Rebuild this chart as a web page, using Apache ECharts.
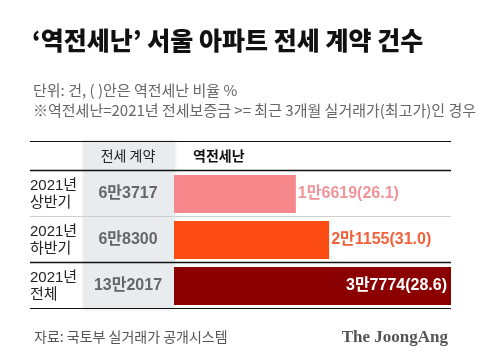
<!DOCTYPE html>
<html><head><meta charset="utf-8">
<script src="https://cdn.jsdelivr.net/npm/echarts@6/dist/echarts.min.js"></script>
<style>html,body{margin:0;padding:0;background:#fff}#c{width:480px;height:362px}</style>
</head><body><div id="c"></div>
<script>
var categories = ['2021년\n상반기', '2021년\n하반기', '2021년\n전체'];
var totalContracts = [63717, 68300, 132017];
var reverseCounts = [16619, 21155, 37774];
var reverseRatios = ['26.1', '31.0', '28.6'];
var barColors = ['#f6878b', '#fd4b14', '#8b0000'];
var labelColors = ['#f0959a', '#f2623a', '#ffffff'];

function man(v){ var m = Math.floor(v/10000), r = v%10000; return m + '만' + r; }

var F = '"Noto Sans CJK KR", "Noto Sans", sans-serif';
var FN = '"Liberation Sans", "Noto Sans CJK KR", sans-serif';
var chart = echarts.init(document.getElementById('c'), null, {renderer:'canvas'});
var L = 30, R = 451;
function hline(y, color, w){
  return {type:'line', shape:{x1:L, y1:y, x2:R, y2:y}, style:{stroke:color, lineWidth:w}, z:10};
}
chart.setOption({
  animation:false,
  title:[
    {text:'‘역전세난’ 서울 아파트 전세 계약 건수', left:27, top:23,
     textStyle:{fontFamily:F, fontSize:25, fontWeight:900, color:'#111'}},
    {text:'단위: 건, ( )안은 역전세난 비율 %\n※역전세난=2021년 전세보증금 >= 최근 3개월 실거래가(최고가)인 경우', left:28, top:75,
     textStyle:{fontFamily:F, fontSize:15, fontWeight:400, color:'#666', lineHeight:20}},
    {text:'자료: 국토부 실거래가 공개시스템', left:29, top:325,
     textStyle:{fontFamily:F, fontSize:14, fontWeight:400, color:'#555'}},
    {text:'The JoongAng', right:27, top:324,
     textStyle:{fontFamily:'"Liberation Serif", "DejaVu Serif", serif', fontSize:17, fontWeight:'bold', color:'#555'}}
  ],
  grid:{left:174, right:29, top:171, bottom:53, containLabel:false},
  xAxis:{type:'value', min:0, max:reverseCounts[2], show:false},
  yAxis:[
    {type:'category', inverse:true, data:categories, position:'left',
     axisLine:{show:false}, axisTick:{show:false}, splitLine:{show:false},
     axisLabel:{align:'left', margin:144, fontFamily:FN, fontSize:15, color:'#222', lineHeight:17}},
    {type:'category', inverse:true, data:categories, position:'left', offset:0,
     axisLine:{show:false}, axisTick:{show:false}, splitLine:{show:false},
     axisLabel:{align:'center', margin:46, fontFamily:FN, fontSize:16, fontWeight:'bold', color:'#666',
       formatter:function(v, i){ return man(totalContracts[i]); }}}
  ],
  graphic:[
    {type:'rect', shape:{x:83, y:141, width:91, height:168}, style:{fill:'#e9ecef', shadowBlur:4, shadowColor:'rgba(0,0,0,0.12)', shadowOffsetX:1}, z:0},
    hline(141.5, '#111', 1),
    hline(170.5, '#111', 1.5),
    hline(216.5, '#cfcfcf', 1),
    hline(262.5, '#111', 1.5),
    hline(308.5, '#111', 1),
    {type:'text', x:128, y:156, style:{text:'전세 계약', fontFamily:F, fontSize:14, fill:'#222', align:'center', verticalAlign:'middle'}, z:10},
    {type:'text', x:193, y:156, style:{text:'역전세난', fontFamily:F, fontSize:14, fontWeight:'bold', fill:'#111', align:'left', verticalAlign:'middle'}, z:10}
  ],
  series:[{
    type:'bar', barWidth:38,
    data: reverseCounts.map(function(v, i){
      return {value:v, itemStyle:{color:barColors[i]},
        label:{show:true, position: i===2 ? 'insideRight' : 'right', distance: i===2 ? 4 : 2,
          color:labelColors[i], fontFamily:FN, fontSize:16, fontWeight:'bold',
          formatter: man(v) + '(' + reverseRatios[i] + ')'}};
    })
  }]
});
</script></body></html>
